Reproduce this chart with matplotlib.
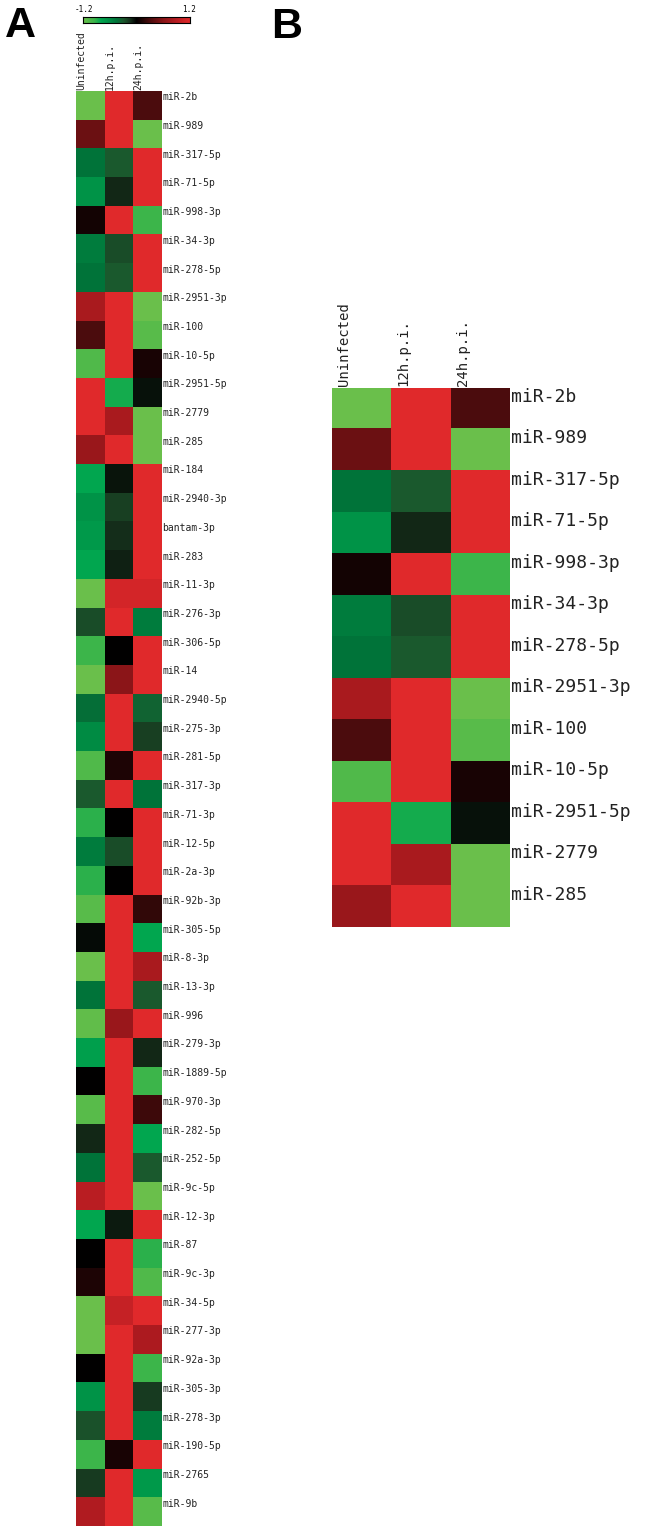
import numpy as np
import matplotlib
matplotlib.use('Agg')
import matplotlib.pyplot as plt
from matplotlib.colors import LinearSegmentedColormap, Normalize

mirnas = ['miR-2b', 'miR-989', 'miR-317-5p', 'miR-71-5p', 'miR-998-3p', 'miR-34-3p',
          'miR-278-5p', 'miR-2951-3p', 'miR-100', 'miR-10-5p', 'miR-2951-5p', 'miR-2779',
          'miR-285', 'miR-184', 'miR-2940-3p', 'bantam-3p', 'miR-283', 'miR-11-3p',
          'miR-276-3p', 'miR-306-5p', 'miR-14', 'miR-2940-5p', 'miR-275-3p', 'miR-281-5p',
          'miR-317-3p', 'miR-71-3p', 'miR-12-5p', 'miR-2a-3p', 'miR-92b-3p', 'miR-305-5p',
          'miR-8-3p', 'miR-13-3p', 'miR-996', 'miR-279-3p', 'miR-1889-5p', 'miR-970-3p',
          'miR-282-5p', 'miR-252-5p', 'miR-9c-5p', 'miR-12-3p', 'miR-87', 'miR-9c-3p',
          'miR-34-5p', 'miR-277-3p', 'miR-92a-3p', 'miR-305-3p', 'miR-278-3p', 'miR-190-5p',
          'miR-2765', 'miR-9b']
conditions = ['Uninfected', '12h.p.i.', '24h.p.i.']

# log2 fold values (-1.2 .. 1.2)
uninfected = [-1.2, 0.45, -0.45, -0.65, 0.08, -0.5, -0.45, 0.8, 0.3, -1.05,
              1.2, 1.2, 0.7, -0.8, -0.65, -0.7, -0.8, -1.2, -0.25, -0.95,
              -1.2, -0.42, -0.6, -1.05, -0.3, -0.9, -0.5, -0.9, -1.1, -0.03,
              -1.2, -0.45, -1.15, -0.75, 0.0, -1.1, -0.12, -0.45, 0.9, -0.8,
              0.0, 0.12, -1.2, -1.2, 0.0, -0.65, -0.27, -0.95, -0.18, 0.85]
h12 = [1.2, 1.2, -0.3, -0.12, 1.2, -0.25, -0.3, 1.2, 1.2, 1.2,
       -0.85, 0.8, 1.2, -0.06, -0.2, -0.14, -0.1, 1.1, 1.2, 0.0,
       0.6, 1.2, 1.2, 0.12, 1.2, 0.0, -0.25, 0.0, 1.2, 1.2,
       1.2, 1.2, 0.7, 1.2, 1.2, 1.2, 1.2, 1.2, 1.2, -0.08,
       1.2, 1.2, 1.0, 1.2, 1.2, 1.2, 1.2, 0.1, 1.2, 1.2]
h24 = [0.3, -1.2, 1.2, 1.2, -0.95, 1.2, 1.2, -1.2, -1.1, 0.1,
       -0.05, -1.2, -1.2, 1.2, 1.2, 1.2, 1.2, 1.1, -0.5, 1.2,
       1.2, -0.35, -0.2, 1.2, -0.45, 1.2, 1.2, 1.2, 0.2, -0.8,
       0.8, -0.3, 1.2, -0.12, -0.95, 0.25, -0.8, -0.3, -1.2, 1.2,
       -0.9, -1.05, 1.2, 0.82, -0.95, -0.18, -0.5, 1.2, -0.7, -1.1]

n_top = 13  # panel B shows the first 13 miRNAs

data = np.column_stack([uninfected, h12, h24])

anchors = [(-1.2, '#6abf4b'), (-0.95, '#3cb54a'), (-0.8, '#00a650'), (-0.6, '#008c44'),
           (-0.45, '#00743a'), (-0.3, '#1b5a2e'), (-0.15, '#17321d'), (0.0, '#000000'),
           (0.3, '#4a0c0d'), (0.6, '#8a1518'), (0.9, '#b81d22'), (1.2, '#e0292b')]
cmap = LinearSegmentedColormap.from_list(
    'gbr', [((v + 1.2) / 2.4, c) for v, c in anchors])
norm = Normalize(vmin=-1.2, vmax=1.2)

W, H = 648, 1533
fig = plt.figure(figsize=(W / 100, H / 100), dpi=100)
mono = 'DejaVu Sans Mono'


def px_axes(x0, y0, x1, y1):
    return fig.add_axes([x0 / W, 1 - y1 / H, (x1 - x0) / W, (y1 - y0) / H])


def draw_heat(ax, vals, labels, row_fs, col_fs, col_pad):
    nr = vals.shape[0]
    ax.imshow(vals, cmap=cmap, norm=norm, aspect='auto',
              extent=(0, 3, nr, 0), interpolation='nearest')
    ax.set_xlim(0, 3)
    ax.set_ylim(nr, 0)
    ax.axis('off')
    for i, lab in enumerate(labels):
        ax.text(3.02, i + 0.22, lab, fontsize=row_fs, family=mono,
                ha='left', va='center', color='#222222', clip_on=False)
    for j, c in enumerate(conditions):
        ax.text(j + 0.2, -col_pad, c, fontsize=col_fs, family=mono, rotation=90,
                ha='center', va='bottom', color='#222222', clip_on=False)


# panel A
axA = px_axes(75.5, 91, 161.5, 1526)
draw_heat(axA, data, mirnas, 7, 7, 0.02)

# colour key
axC = px_axes(83, 17, 190, 23)
axC.imshow(np.linspace(-1.2, 1.2, 256)[None, :], cmap=cmap, norm=norm,
           aspect='auto', extent=(-1.2, 1.2, 0, 1))
axC.set_xticks([])
axC.set_yticks([])
for s in axC.spines.values():
    s.set_linewidth(0.8)
fig.text(75 / W, 1 - 14 / H, '-1.2', fontsize=5.5, family=mono, ha='left', va='bottom')
fig.text(196 / W, 1 - 14 / H, '1.2', fontsize=5.5, family=mono, ha='right', va='bottom')

# panel B
axB = px_axes(332, 387.5, 510, 927)
draw_heat(axB, data[:n_top], mirnas[:n_top], 13, 10, 0.03)

fig.text(5 / W, 1 - 6 / H, 'A', fontsize=31, fontweight='bold',
         family='Liberation Sans', ha='left', va='top')
fig.text(271 / W, 1 - 7 / H, 'B', fontsize=31, fontweight='bold',
         family='Liberation Sans', ha='left', va='top')

fig.savefig('out.png', dpi=100)
